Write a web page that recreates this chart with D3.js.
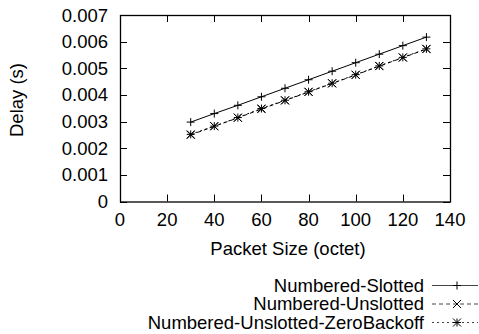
<!DOCTYPE html>
<html>
<head>
<meta charset="utf-8">
<script src="https://cdn.jsdelivr.net/npm/d3@7"></script>
<style>
  body { margin: 0; background: #fff; }
  svg { display: block; font-family: 'Liberation Sans', Arial, sans-serif; }
</style>
</head>
<body>
<svg width="479" height="334"></svg>
<script>
const packetSizes = [30, 40, 50, 60, 70, 80, 90, 100, 110, 120, 130];
const slotted = [0.00298, 0.00330, 0.00361, 0.00393, 0.00425, 0.00457, 0.00489, 0.00521, 0.00553, 0.00585, 0.00617];
const unslotted = [0.00250, 0.00282, 0.00314, 0.00347, 0.00379, 0.00411, 0.00443, 0.00475, 0.00508, 0.00540, 0.00572];
const zeroBackoff = [0.00252, 0.00283, 0.00315, 0.00349, 0.00380, 0.00412, 0.00444, 0.00476, 0.00509, 0.00541, 0.00573];
const seriesNames = ['Numbered-Slotted', 'Numbered-Unslotted', 'Numbered-Unslotted-ZeroBackoff'];
const xTicks = [0, 20, 40, 60, 80, 100, 120, 140];
const yTicks = [0, 0.001, 0.002, 0.003, 0.004, 0.005, 0.006, 0.007];

const SVG = d3.select('svg');
const LEFT = 120, RIGHT = 450, TOP = 15, BOTTOM = 201.5;
const TICK = 7;
const FONT = '18.5px';

const X_SCALE = d3.scaleLinear().domain([0, 140]).range([LEFT, RIGHT]);
const Y_SCALE = d3.scaleLinear().domain([0, 0.007]).range([BOTTOM, TOP]);

const series = [
  { name: seriesNames[0], values: slotted, dash: null, marker: 'plus' },
  { name: seriesNames[1], values: unslotted, dash: '4,3', marker: 'cross' },
  { name: seriesNames[2], values: zeroBackoff, dash: '2,3', marker: 'star' }
];

// tick marks, mirrored inside the frame
const ticksG = SVG.append('g').attr('stroke', '#000').attr('stroke-width', 1);
xTicks.forEach(t => {
  const x = Math.round(X_SCALE(t)) + 0.5;
  ticksG.append('line').attr('x1', x).attr('x2', x).attr('y1', BOTTOM).attr('y2', BOTTOM - TICK);
  ticksG.append('line').attr('x1', x).attr('x2', x).attr('y1', TOP).attr('y2', TOP + TICK);
});
yTicks.forEach(t => {
  const y = Math.round(Y_SCALE(t)) + 0.5;
  ticksG.append('line').attr('x1', LEFT).attr('x2', LEFT + TICK).attr('y1', y).attr('y2', y);
  ticksG.append('line').attr('x1', RIGHT).attr('x2', RIGHT - TICK).attr('y1', y).attr('y2', y);
});

// frame
SVG.append('rect')
  .attr('x', LEFT + 0.5).attr('y', TOP + 0.5)
  .attr('width', RIGHT - LEFT).attr('height', BOTTOM - TOP)
  .attr('fill', 'none').attr('stroke', '#000').attr('stroke-width', 1.3);

// tick labels
SVG.append('g').selectAll('text').data(xTicks).join('text')
  .attr('x', d => X_SCALE(d)).attr('y', 226)
  .attr('text-anchor', 'middle').style('font-size', FONT)
  .text(d => d);
SVG.append('g').selectAll('text').data(yTicks).join('text')
  .attr('x', 108).attr('y', d => Y_SCALE(d) + 6.5)
  .attr('text-anchor', 'end').style('font-size', FONT)
  .text(d => d === 0 ? '0' : d.toFixed(3));

// axis titles
SVG.append('text')
  .attr('transform', 'translate(23,100) rotate(-90)')
  .attr('text-anchor', 'middle').style('font-size', FONT)
  .text('Delay (s)');
SVG.append('text')
  .attr('x', 288).attr('y', 255)
  .attr('text-anchor', 'middle').style('font-size', FONT)
  .text('Packet Size (octet)');

function marker(g, type, x, y) {
  const r = 4;
  const p = d3.path();
  if (type === 'plus' || type === 'star') {
    p.moveTo(x - r, y); p.lineTo(x + r, y);
    p.moveTo(x, y - r); p.lineTo(x, y + r);
  }
  if (type === 'cross' || type === 'star') {
    p.moveTo(x - r, y - r); p.lineTo(x + r, y + r);
    p.moveTo(x - r, y + r); p.lineTo(x + r, y - r);
  }
  g.append('path').attr('d', p.toString())
    .attr('stroke', '#000').attr('stroke-width', 1).attr('fill', 'none');
}

const line = d3.line().x(d => X_SCALE(d[0])).y(d => Y_SCALE(d[1]));

series.forEach(s => {
  const pts = packetSizes.map((p, i) => [p, s.values[i]]);
  const g = SVG.append('g');
  g.append('path').attr('d', line(pts))
    .attr('fill', 'none').attr('stroke', '#000').attr('stroke-width', 1)
    .attr('stroke-dasharray', s.dash);
  pts.forEach(d => marker(g, s.marker, X_SCALE(d[0]), Y_SCALE(d[1])));
});

// legend
series.forEach((s, i) => {
  const y = 285 + i * 18.5;
  SVG.append('text')
    .attr('x', 424).attr('y', y + 6.5)
    .attr('text-anchor', 'end').style('font-size', FONT)
    .text(s.name);
  const g = SVG.append('g');
  g.append('line').attr('x1', 432).attr('x2', 478).attr('y1', y + 0.5).attr('y2', y + 0.5)
    .attr('stroke', '#444').attr('stroke-width', 1).attr('stroke-dasharray', s.dash);
  marker(g, s.marker, 457, y + 0.5);
});
</script>
</body>
</html>
